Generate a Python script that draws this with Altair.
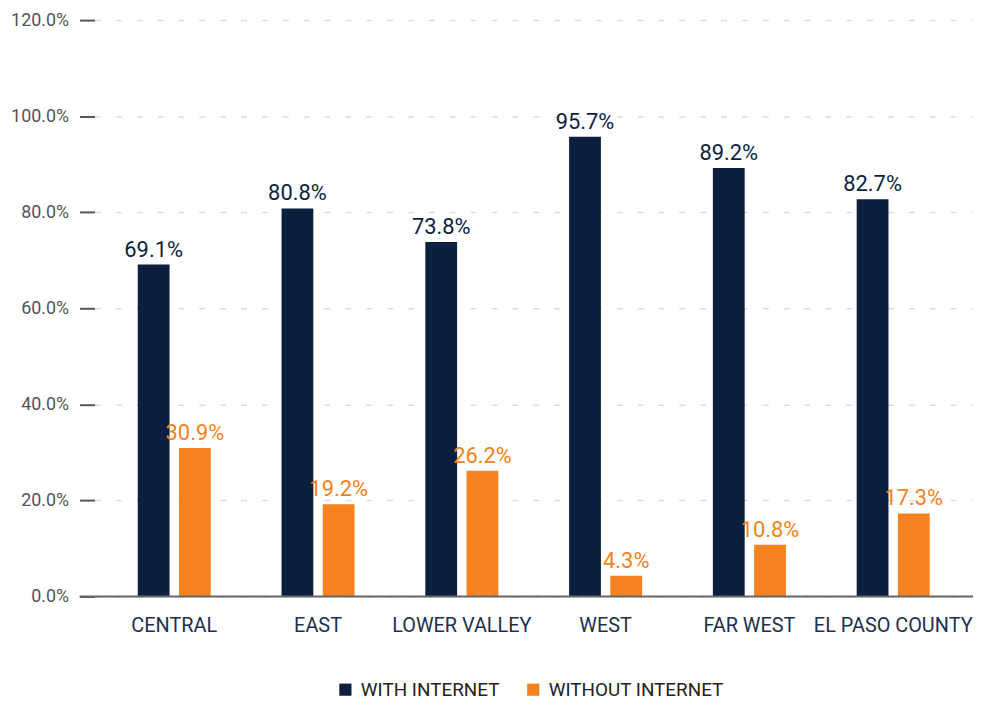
import altair as alt
import pandas as pd

categories = ["CENTRAL", "EAST", "LOWER VALLEY", "WEST", "FAR WEST", "EL PASO COUNTY"]
series_names = ["WITH INTERNET", "WITHOUT INTERNET"]
with_internet = [69.1, 80.8, 73.8, 95.7, 89.2, 82.7]
without_internet = [30.9, 19.2, 26.2, 4.3, 10.8, 17.3]
y_ticks = [0, 20, 40, 60, 80, 100, 120]
colors = ["#0C1F3F", "#F58220"]

rows = []
for i, c in enumerate(categories):
    rows.append({"cat": c, "series": series_names[0], "value": with_internet[i]})
    rows.append({"cat": c, "series": series_names[1], "value": without_internet[i]})
df = pd.DataFrame(rows)

FONT = "Roboto"
W, H = 884, 580

x_enc = alt.X("cat:N", sort=categories, title=None,
              scale=alt.Scale(paddingInner=0, paddingOuter=0.055),
              axis=alt.Axis(labelAngle=0, ticks=False, domain=False, labelFont=FONT,
                            labelFontSize=20, labelColor="#1F2F4F", labelPadding=19,
                            labelLimit=0))
xoff = alt.XOffset("series:N", sort=series_names,
                   scale=alt.Scale(paddingInner=0.229, paddingOuter=0.858))
y_enc = alt.Y("value:Q", title=None,
              scale=alt.Scale(domain=[0, 120], nice=False),
              axis=alt.Axis(values=y_ticks, labelExpr="format(datum.value, '.1f') + '%'",
                            domain=False, tickSize=15, tickColor="#555555", tickWidth=2,
                            labelFont=FONT, labelFontSize=18, labelColor="#555555",
                            labelPadding=11, grid=True, gridColor="#DDDDDD",
                            gridDash=[6, 15], gridWidth=1.5))
color_scale = alt.Scale(domain=series_names, range=colors)

base = alt.Chart(df)

bars = base.mark_bar().encode(
    x=x_enc, xOffset=xoff, y=y_enc,
    color=alt.Color("series:N", scale=color_scale, sort=series_names,
                    legend=alt.Legend(title=None, orient="none", direction="horizontal",
                                      legendX=243, legendY=664, symbolType="square",
                                      symbolSize=150, symbolStrokeWidth=0,
                                      labelFont=FONT, labelFontSize=19, labelColor="#222222",
                                      labelOffset=6, columnPadding=24, labelLimit=0)),
)

labels = base.transform_calculate(
    label="format(datum.value, '.1f') + '%'"
).mark_text(baseline="bottom", dy=-3, font=FONT, fontSize=22).encode(
    x=alt.X("cat:N", sort=categories),
    xOffset=alt.XOffset("series:N", sort=series_names),
    y=alt.Y("value:Q"),
    text="label:N",
    color=alt.Color("series:N", scale=color_scale, legend=None),
)

baseline = alt.Chart(pd.DataFrame({"v": [0]})).mark_rule(color="#666666", strokeWidth=2).encode(
    y=alt.Y("v:Q"), x=alt.value(-15), x2=alt.value(W)
)

chart = alt.layer(bars, labels, baseline).properties(
    width=W, height=H,
    autosize=alt.AutoSizeParams(type="none"),
    padding={"left": 87, "top": 10, "right": 0, "bottom": 108},
).configure_view(stroke=None)

chart.save("out.html", embed_options={"renderer": "svg", "actions": False})
